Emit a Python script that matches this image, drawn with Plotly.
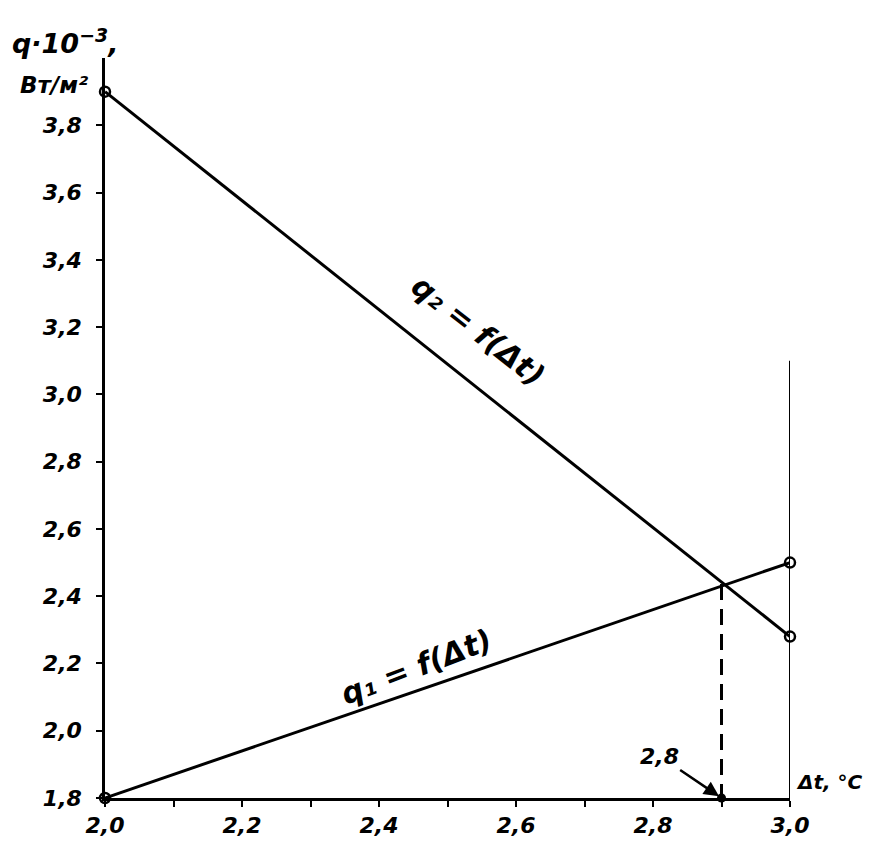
import plotly.graph_objects as go

# Data
dt = [2.0, 3.0]
q1 = [1.8, 2.5]
q2 = [3.9, 2.28]
t_cross = 2.9
q_cross = 2.436
right_line_x = [3.0, 3.0]
right_line_y = [1.8, 3.1]

x_tickvals = [2.0, 2.2, 2.4, 2.6, 2.8, 3.0]
x_ticktext = ["2,0", "2,2", "2,4", "2,6", "2,8", "3,0"]
y_tickvals = [1.8, 2.0, 2.2, 2.4, 2.6, 2.8, 3.0, 3.2, 3.4, 3.6, 3.8]
y_ticktext = ["1,8", "2,0", "2,2", "2,4", "2,6", "2,8", "3,0", "3,2", "3,4", "3,6", "3,8"]

FONT = "DejaVu Sans"
fig = go.Figure()

fig.add_trace(go.Scatter(x=right_line_x, y=right_line_y, mode="lines",
                         line=dict(color="black", width=2), cliponaxis=False, showlegend=False))
fig.add_trace(go.Scatter(x=dt, y=q1, mode="lines+markers",
                         line=dict(color="black", width=3),
                         marker=dict(symbol="circle-open", size=10, color="black", line=dict(width=2.5)),
                         cliponaxis=False, showlegend=False))
fig.add_trace(go.Scatter(x=dt, y=q2, mode="lines+markers",
                         line=dict(color="black", width=3),
                         marker=dict(symbol="circle-open", size=10, color="black", line=dict(width=2.5)),
                         cliponaxis=False, showlegend=False))
fig.add_trace(go.Scatter(x=[t_cross, t_cross], y=[q_cross, 1.8], mode="lines",
                         line=dict(color="black", width=3, dash="16px,9px"),
                         cliponaxis=False, showlegend=False))
fig.add_trace(go.Scatter(x=[t_cross], y=[1.8], mode="markers",
                         marker=dict(symbol="circle", size=9, color="black"),
                         cliponaxis=False, showlegend=False))

tf = dict(family=FONT, size=22, color="black", style="italic", weight="bold")

# page body adds an 8px offset; compensate so the plot area sits at x 105-790, y 58-798
fig.update_layout(
    width=864, height=844,
    margin=dict(l=97, r=82, t=50, b=54, autoexpand=False),
    paper_bgcolor="white", plot_bgcolor="white",
    xaxis=dict(range=[2.0, 3.0], showgrid=False, zeroline=False,
               showline=True, linecolor="black", linewidth=2.5,
               ticks="outside", ticklen=6, tickwidth=2, tickcolor="black",
               tickmode="array", tickvals=x_tickvals, ticktext=x_ticktext, tickfont=tf,
               minor=dict(tick0=2.0, dtick=0.1, ticks="outside", ticklen=6,
                          tickwidth=2, tickcolor="black", showgrid=False)),
    yaxis=dict(range=[1.8, 4.0], showgrid=False, zeroline=False,
               showline=True, linecolor="black", linewidth=2.5,
               ticks="outside", ticklen=6, tickwidth=2, tickcolor="black",
               tickvals=y_tickvals, ticktext=y_ticktext, tickfont=tf,
               ticklabelstandoff=10),
    font=dict(family=FONT, color="black"),
)

af = dict(family=FONT, size=27, color="black", style="italic", weight="bold")
fig.add_annotation(text="q·10<sup>−3</sup>,", xref="paper", yref="paper", x=-0.138, y=1.022,
                   xanchor="left", yanchor="middle", showarrow=False, font=af)
fig.add_annotation(text="Вт/м²", xref="paper", yref="paper", x=-0.127, y=0.963,
                   xanchor="left", yanchor="middle", showarrow=False,
                   font=dict(family=FONT, size=23, color="black", style="italic", weight="bold"))
fig.add_annotation(text="Δt, °C", xref="paper", yref="paper", x=1.006, y=0.022,
                   xanchor="left", yanchor="middle", showarrow=False,
                   font=dict(family=FONT, size=20, color="black", style="italic", weight="bold"))
fig.add_annotation(text="q₂ = f(Δt)", x=2.545, y=3.19, showarrow=False, textangle=38,
                   font=dict(family=FONT, size=30, color="black", style="italic", weight="bold"))
fig.add_annotation(text="q₁ = f(Δt)", x=2.455, y=2.19, showarrow=False, textangle=-21,
                   font=dict(family=FONT, size=30, color="black", style="italic", weight="bold"))
fig.add_annotation(text="2,8", x=t_cross, y=1.8, ax=-62, ay=-42, showarrow=True,
                   arrowhead=2, arrowsize=1.2, arrowwidth=2.5, arrowcolor="black", standoff=3,
                   font=dict(family=FONT, size=22, color="black", style="italic", weight="bold"))

fig.write_html("out.html")
